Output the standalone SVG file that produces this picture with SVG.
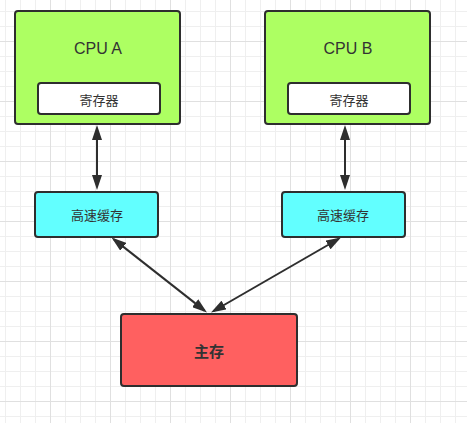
<svg xmlns="http://www.w3.org/2000/svg" width="467" height="423" viewBox="0 0 467 423">
  <style>
    .box { stroke: #2e2e2e; stroke-width: 2; }
    .cpu { fill: #adff62; }
    .reg { fill: #ffffff; }
    .cache { fill: #62ffff; }
    .mem { fill: #ff6060; }
    .t { fill: #333333; text-anchor: middle; dominant-baseline: central; }
    .en { font-family: "Liberation Sans", Arial, sans-serif; font-size: 16px; }
    .cn { font-family: "Noto Sans CJK SC", "Noto Sans", sans-serif; font-size: 13px; }
    .cnb { font-family: "Noto Sans CJK SC", "Noto Sans", sans-serif; font-size: 15px; font-weight: bold; }
    .conn line { stroke: #2e2e2e; stroke-width: 2; fill: none; marker-start: url(#ah); marker-end: url(#ah); }
  </style>
  <defs>
    <pattern id="minor" patternUnits="userSpaceOnUse" x="5" y="11" width="15" height="15">
      <path d="M0 0.5 H15 M0.5 0 V15" stroke="#efefef" stroke-width="1" fill="none"/>
    </pattern>
    <pattern id="major" patternUnits="userSpaceOnUse" x="50" y="41" width="60" height="60">
      <path d="M0 0.5 H60 M0.5 0 V60" stroke="#e0e0e0" stroke-width="1" fill="none"/>
    </pattern>
    <marker id="ah" viewBox="0 0 15 10" refX="12" refY="5" markerWidth="15" markerHeight="10" markerUnits="userSpaceOnUse" orient="auto-start-reverse">
      <path d="M0,0 L15,5 L0,10 z" fill="#2e2e2e"/>
    </marker>
  </defs>
  <rect width="467" height="423" fill="#ffffff"/>
  <rect width="467" height="423" fill="url(#minor)"/>
  <rect width="467" height="423" fill="url(#major)"/>

  <g id="connectors" class="conn">
    <line x1="97" y1="128" x2="97" y2="187"/>
    <line x1="345" y1="128" x2="345" y2="187"/>
    <line x1="113.9" y1="239.4" x2="204.6" y2="310.6"/>
    <line x1="338.4" y1="239" x2="213.6" y2="311"/>
  </g>

  <g id="cpuA">
    <rect class="box cpu" x="15" y="11" width="165" height="113" rx="3"/>
    <text class="t en" x="98" y="48">CPU A</text>
  </g>
  <g id="regA">
    <rect class="box reg" x="38" y="83" width="122" height="31" rx="3"/>
    <text class="t cn" x="99" y="99">寄存器</text>
  </g>
  <g id="cpuB">
    <rect class="box cpu" x="265" y="11" width="165" height="113" rx="3"/>
    <text class="t en" x="348" y="48">CPU B</text>
  </g>
  <g id="regB">
    <rect class="box reg" x="288" y="83" width="122" height="31" rx="3"/>
    <text class="t cn" x="349" y="99">寄存器</text>
  </g>
  <g id="cacheA">
    <rect class="box cache" x="35" y="192" width="123" height="45" rx="3"/>
    <text class="t cn" x="97" y="214">高速缓存</text>
  </g>
  <g id="cacheB">
    <rect class="box cache" x="282" y="192" width="123" height="45" rx="3"/>
    <text class="t cn" x="343" y="214">高速缓存</text>
  </g>
  <g id="mainMem">
    <rect class="box mem" x="121" y="314" width="176" height="72" rx="3"/>
    <text class="t cnb" x="209" y="350">主存</text>
  </g>
</svg>
